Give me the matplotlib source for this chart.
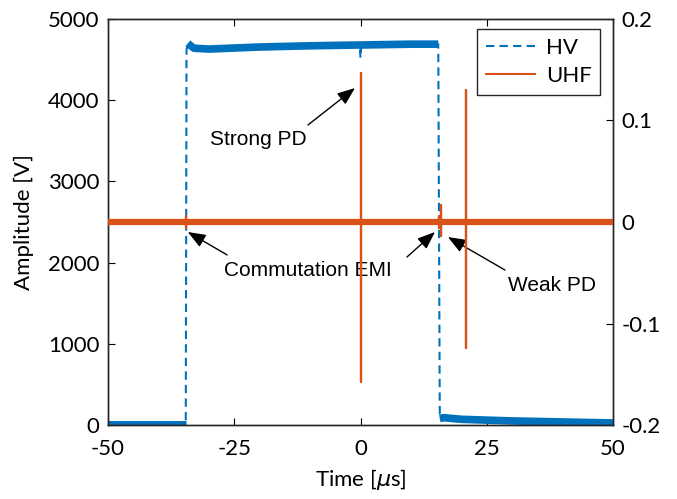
import matplotlib
matplotlib.use("Agg")
import matplotlib.pyplot as plt
from matplotlib.lines import Line2D

# ---- data ----
hv_t = [-50, -34.6, -34.45, -34.2, -33, -30, -20, -10, -0.15, 0, 0.15, 10, 15.4, 15.7, 16.5, 20, 30, 50]
hv_v = [15, 15, 4620, 4700, 4640, 4630, 4655, 4670, 4680, 4520, 4680, 4690, 4690, 80, 90, 70, 50, 25]

uhf_base_t = [-50, 50]
uhf_base_v = [0, 0]
spike_t = [-34.5, 0.0, 15.5, 16.0, 20.9]
spike_hi = [0.006, 0.147, 0.006, 0.017, 0.130]
spike_lo = [-0.006, -0.158, -0.006, -0.014, -0.124]

xticks = [-50, -25, 0, 25, 50]
yticks_left = [0, 1000, 2000, 3000, 4000, 5000]
yticks_right = [-0.2, -0.1, 0, 0.1, 0.2]

HV_C = '#0072BD'
UHF_C = '#D95319'

plt.rcParams['font.family'] = ['Lato', 'DejaVu Sans']
plt.rcParams['mathtext.fontset'] = 'dejavusans'

fig = plt.figure(figsize=(6.77, 4.99), dpi=100)
ax = fig.add_axes([108/677, 1-425/499, (613-108)/677, (425-19)/499])
ax2 = ax.twinx()

# HV: dashed trace, flat noisy parts shown as a thick band
ax.plot(hv_t, hv_v, color=HV_C, lw=1.5, ls=(0, (4, 2.5)), zorder=2)
ax.plot(hv_t[0:2], hv_v[0:2], color=HV_C, lw=5, solid_capstyle='butt', zorder=2)
top_t = hv_t[3:9] + hv_t[10:13]
top_v = hv_v[3:9] + hv_v[10:13]
ax.plot(top_t, top_v, color=HV_C, lw=5.5, solid_capstyle='butt', zorder=2)
ax.plot(hv_t[13:], hv_v[13:], color=HV_C, lw=5.5, solid_capstyle='butt', zorder=2)

# UHF
ax2.plot(uhf_base_t, uhf_base_v, color=UHF_C, lw=4.5, solid_capstyle='butt', zorder=3)
st, sv = [], []
for t, hi, lo in zip(spike_t, spike_hi, spike_lo):
    st += [t, t, t, t]
    sv += [0, hi, lo, 0]
ax2.plot(st, sv, color=UHF_C, lw=1.6, zorder=3)

ax.set_xlim(-50, 50)
ax.set_ylim(0, 5000)
ax2.set_ylim(-0.2, 0.2)
ax.set_xticks(xticks)
ax.set_yticks(yticks_left)
ax2.set_yticks(yticks_right)
ax.set_xticklabels([str(v) for v in xticks])
ax.set_yticklabels([str(v) for v in yticks_left])
ax2.set_yticklabels(['-0.2', '-0.1', '0', '0.1', '0.2'])

for a in (ax, ax2):
    a.tick_params(direction='in', length=5, width=0.8, labelsize=16, colors='black', pad=6)
    for s in a.spines.values():
        s.set_color('#262626')
        s.set_linewidth(1.0)
ax.tick_params(top=True)
ax.tick_params(axis='x', pad=10)

ax.set_xlabel(r'Time [$\mu$s]', fontsize=16, labelpad=6)
ax.set_ylabel('Amplitude [V]', fontsize=16, labelpad=10)

# annotations
afont = dict(family=['Liberation Sans', 'DejaVu Sans'], fontsize=15)
aprops = dict(arrowstyle='-|>,head_width=0.35,head_length=0.9', color='black', lw=1.0,
              shrinkA=0, shrinkB=0, mutation_scale=12)
ax.annotate('', xy=(-1.09, 4150), xytext=(-10.4, 3695), arrowprops=aprops, zorder=6)
ax.text(-20.3, 3522, 'Strong PD', ha='center', va='center', **afont, zorder=6)
ax.annotate('', xy=(-34.2, 2377), xytext=(-26.4, 2094), arrowprops=aprops, zorder=6)
ax.annotate('', xy=(14.75, 2377), xytext=(9.2, 2069), arrowprops=aprops, zorder=6)
ax.text(-10.4, 1897, 'Commutation EMI', ha='center', va='center', **afont, zorder=6)
ax.annotate('', xy=(17.3, 2315), xytext=(28.6, 1909), arrowprops=aprops, zorder=6)
ax.text(37.9, 1724, 'Weak PD', ha='center', va='center', **afont, zorder=6)

handles = [Line2D([0], [0], color=HV_C, lw=1.5, ls=(0, (4, 2.5))),
           Line2D([0], [0], color=UHF_C, lw=1.5)]
leg = ax2.legend(handles, ['HV', 'UHF'], loc='upper right', bbox_to_anchor=(0.975, 0.975),
                 borderaxespad=0, fancybox=False, edgecolor='#262626', framealpha=1,
                 fontsize=16, handlelength=2.2, borderpad=0.4, labelspacing=0.35,
                 handletextpad=0.5)
leg.get_frame().set_linewidth(1.0)

fig.savefig('out.png', dpi=100)
